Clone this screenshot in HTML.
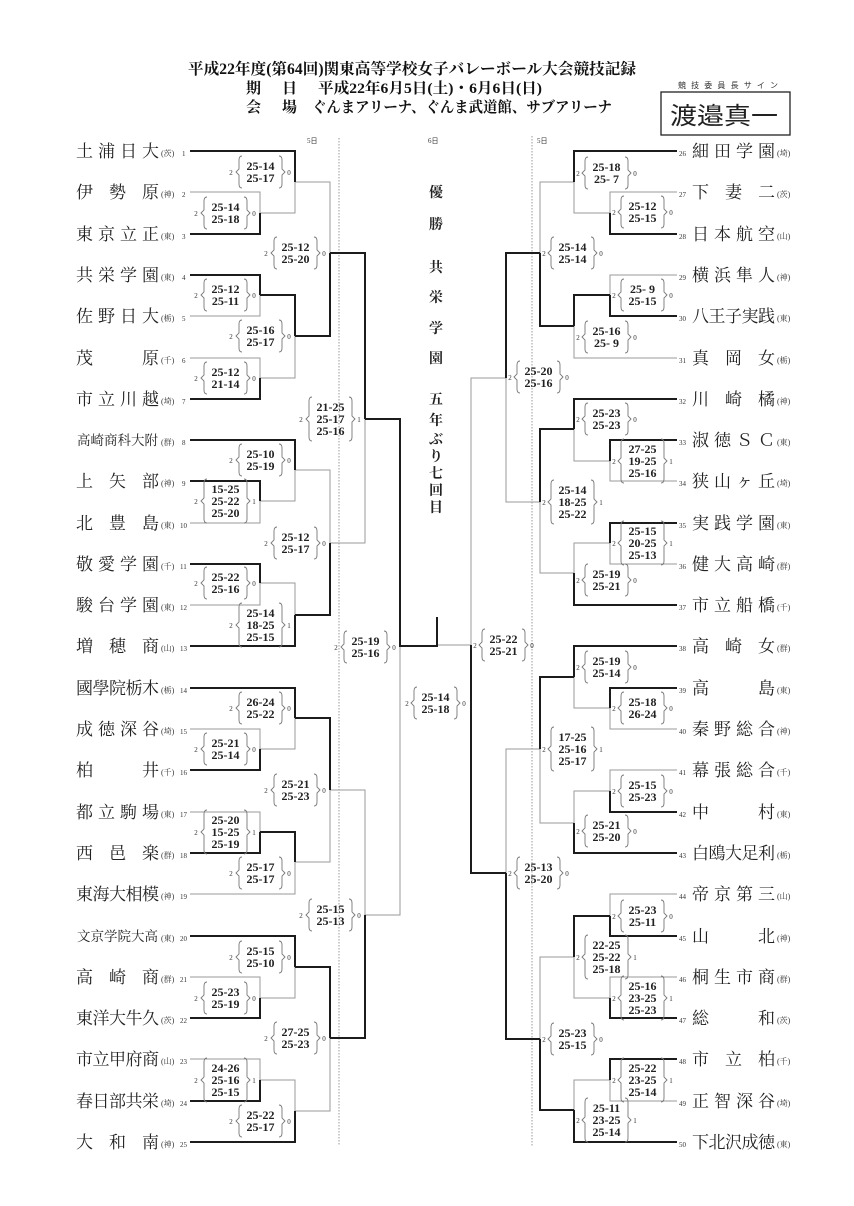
<!DOCTYPE html>
<html><head><meta charset="utf-8">
<style>
html,body{margin:0;padding:0;background:#fff;}
svg{display:block;}
.nm{font-family:"Liberation Serif","Noto Serif CJK SC",serif;font-size:17px;fill:#222;}
.nm6{font-family:"Liberation Serif","Noto Serif CJK SC",serif;font-size:13.5px;fill:#222;}
.pf{font-family:"Liberation Serif","Noto Serif CJK SC",serif;font-size:8px;fill:#333;}
.no{font-family:"Liberation Serif",serif;font-size:7px;fill:#333;}
.sc{font-family:"Liberation Serif",serif;font-size:12px;font-weight:bold;fill:#222;text-anchor:middle;}
.sm{font-family:"Liberation Serif",serif;font-size:7px;fill:#333;text-anchor:middle;}
.tk polyline,.tk line{fill:none;stroke:#1c1c1c;stroke-width:2;}
.tn polyline,.tn line{fill:none;stroke:#9a9a9a;stroke-width:1;}
.br{fill:none;stroke:#777;stroke-width:0.9;}
.hd{font-family:"Liberation Serif","Noto Serif CJK SC",serif;fill:#111;font-weight:bold;}
.ct{font-family:"Liberation Serif","Noto Serif CJK SC",serif;font-size:14px;font-weight:bold;fill:#222;text-anchor:middle;}
</style></head><body>
<svg width="854" height="1206" viewBox="0 0 854 1206" xmlns="http://www.w3.org/2000/svg">
<defs>
<g id="b2"><path class="br" d="M4,-16 Q1,-16 1,-12 L1,-3 L-2,0 L1,3 L1,12 Q1,16 4,16 M41,-16 Q44,-16 44,-12 L44,-3 L47,0 L44,3 L44,12 Q44,16 41,16"/></g>
<g id="b3"><path class="br" d="M4,-22 Q1,-22 1,-18 L1,-3 L-2,0 L1,3 L1,18 Q1,22 4,22 M41,-22 Q44,-22 44,-18 L44,-3 L47,0 L44,3 L44,18 Q44,22 41,22"/></g>
</defs>

<!-- header -->
<text class="hd" x="188" y="74" font-size="15.5" textLength="448" lengthAdjust="spacingAndGlyphs">平成22年度(第64回)関東高等学校女子バレーボール大会競技記録</text>
<text class="hd" x="246" y="93" font-size="15">期</text>
<text class="hd" x="282" y="93" font-size="15">日</text>
<text class="hd" x="318" y="93" font-size="15" textLength="224" lengthAdjust="spacingAndGlyphs">平成22年6月5日(土)・6月6日(日)</text>
<text class="hd" x="246" y="112" font-size="15">会</text>
<text class="hd" x="282" y="112" font-size="15">場</text>
<text class="hd" x="312" y="112" font-size="15" textLength="300" lengthAdjust="spacingAndGlyphs">ぐんまアリーナ、ぐんま武道館、サブアリーナ</text>
<text x="678" y="88" font-family="'Noto Sans CJK JP',sans-serif" font-size="8" fill="#333" textLength="100">競技委員長サイン</text>
<rect x="661" y="92" width="129" height="43" fill="none" stroke="#222" stroke-width="1.3"/>
<text x="670" y="124" font-family="'Noto Sans CJK JP',sans-serif" font-size="24" fill="#222" textLength="108" lengthAdjust="spacingAndGlyphs">渡邉真一</text>

<text class="no" x="307" y="143">5日</text>
<text class="no" x="428" y="143">6日</text>
<text class="no" x="537" y="143">5日</text>
<line x1="339" y1="138" x2="339" y2="1146" stroke="#999" stroke-width="1" stroke-dasharray="1.5,1.5"/>
<line x1="532" y1="136" x2="532" y2="1146" stroke="#999" stroke-width="1" stroke-dasharray="1.5,1.5"/>

<!-- center text -->
<text class="ct" x="436" y="197">優</text>
<text class="ct" x="436" y="229">勝</text>
<text class="ct" x="436" y="272">共</text>
<text class="ct" x="436" y="302">栄</text>
<text class="ct" x="436" y="333">学</text>
<text class="ct" x="436" y="363">園</text>
<text class="ct" x="436" y="404">五</text>
<text class="ct" x="436" y="425">年</text>
<text class="ct" x="436" y="444">ぶ</text>
<text class="ct" x="436" y="461">り</text>
<text class="ct" x="436" y="478">七</text>
<text class="ct" x="436" y="495">回</text>
<text class="ct" x="436" y="512">目</text>

<!-- thin lines -->
<g class="tn">
<polyline points="190,192 260,192 260,213"/>
<polyline points="260,213 295,213 295,182"/>
<polyline points="190,316 260,316 260,295"/>
<polyline points="190,358 260,358 260,378"/>
<polyline points="260,378 295,378 295,336"/>
<polyline points="295,182 330,182 330,253"/>
<polyline points="190,523 260,523 260,501"/>
<polyline points="260,501 295,501 295,470"/>
<polyline points="190,605 260,605 260,583"/>
<polyline points="260,583 295,583 295,615"/>
<polyline points="295,470 330,470 330,543"/>
<polyline points="330,543 365,543 365,419"/>
<polyline points="190,729 260,729 260,749"/>
<polyline points="260,749 295,749 295,718"/>
<polyline points="190,812 260,812 260,832"/>
<polyline points="190,894 295,894 295,862"/>
<polyline points="295,862 330,862 330,790"/>
<polyline points="190,977 260,977 260,998"/>
<polyline points="260,998 295,998 295,967"/>
<polyline points="190,1059 260,1059 260,1080"/>
<polyline points="260,1080 295,1080 295,1111"/>
<polyline points="295,1111 330,1111 330,1038"/>
<polyline points="330,790 365,790 365,915"/>
<polyline points="365,915 400,915 400,646"/>
<polyline points="471,645 437,645"/>

<polyline points="677,192 610,192 610,213"/>
<polyline points="610,213 574,213 574,182"/>
<polyline points="677,275 610,275 610,295"/>
<polyline points="677,358 574,358 574,326"/>
<polyline points="574,182 540,182 540,253"/>
<polyline points="677,481 610,481 610,461"/>
<polyline points="610,461 574,461 574,429"/>
<polyline points="677,564 610,564 610,543"/>
<polyline points="610,543 574,543 574,573"/>
<polyline points="574,573 540,573 540,502"/>
<polyline points="540,502 506,502 506,378"/>
<polyline points="677,729 610,729 610,708"/>
<polyline points="610,708 574,708 574,677"/>
<polyline points="677,770 610,770 610,791"/>
<polyline points="610,791 574,791 574,823"/>
<polyline points="574,823 540,823 540,749"/>
<polyline points="677,894 610,894 610,916"/>
<polyline points="677,977 610,977 610,998"/>
<polyline points="610,998 574,998 574,957"/>
<polyline points="677,1101 610,1101 610,1080"/>
<polyline points="610,1080 574,1080 574,1110"/>
<polyline points="574,957 540,957 540,1039"/>
<polyline points="540,749 506,749 506,873"/>
<polyline points="506,378 471,378 471,645"/>
</g>
<!-- thick lines -->
<g class="tk">
<polyline points="190,234 260,234 260,213"/>
<polyline points="190,151 295,151 295,182"/>
<polyline points="190,275 260,275 260,295"/>
<polyline points="190,399 260,399 260,378"/>
<polyline points="260,295 295,295 295,336"/>
<polyline points="295,336 330,336 330,253"/>
<polyline points="190,481 260,481 260,501"/>
<polyline points="190,440 295,440 295,470"/>
<polyline points="190,564 260,564 260,583"/>
<polyline points="190,646 295,646 295,615"/>
<polyline points="295,615 330,615 330,543"/>
<polyline points="330,253 365,253 365,419"/>
<polyline points="190,770 260,770 260,749"/>
<polyline points="190,688 295,688 295,718"/>
<polyline points="190,853 260,853 260,832"/>
<polyline points="260,832 295,832 295,862"/>
<polyline points="295,718 330,718 330,790"/>
<polyline points="190,1018 260,1018 260,998"/>
<polyline points="190,936 295,936 295,967"/>
<polyline points="190,1101 260,1101 260,1080"/>
<polyline points="190,1142 295,1142 295,1111"/>
<polyline points="295,967 330,967 330,1038"/>
<polyline points="330,1038 365,1038 365,915"/>
<polyline points="365,419 400,419 400,646 437,646 437,617"/>

<polyline points="677,234 610,234 610,213"/>
<polyline points="677,151 574,151 574,182"/>
<polyline points="677,316 610,316 610,295"/>
<polyline points="610,295 574,295 574,326"/>
<polyline points="574,326 540,326 540,253"/>
<polyline points="677,440 610,440 610,461"/>
<polyline points="677,399 574,399 574,429"/>
<polyline points="677,523 610,523 610,543"/>
<polyline points="677,605 574,605 574,573"/>
<polyline points="574,429 540,429 540,502"/>
<polyline points="540,253 506,253 506,378"/>
<polyline points="677,688 610,688 610,708"/>
<polyline points="677,646 574,646 574,677"/>
<polyline points="677,812 610,812 610,791"/>
<polyline points="677,853 574,853 574,823"/>
<polyline points="574,677 540,677 540,749"/>
<polyline points="677,936 610,936 610,916"/>
<polyline points="677,1018 610,1018 610,998"/>
<polyline points="610,916 574,916 574,957"/>
<polyline points="677,1059 610,1059 610,1080"/>
<polyline points="677,1142 574,1142 574,1110"/>
<polyline points="574,1110 540,1110 540,1039"/>
<polyline points="540,1039 506,1039 506,873"/>
<polyline points="506,873 471,873 471,645"/>
</g>

<!-- LEFT TEAMS -->
<g>
<text class="nm" x="76" y="157" textLength="83" lengthAdjust="spacing">土浦日大</text><text class="pf" x="161" y="156">(茨)</text><text class="no" x="182" y="156">1</text>
<text class="nm" x="76" y="198" textLength="83" lengthAdjust="spacing">伊勢原</text><text class="pf" x="161" y="197">(神)</text><text class="no" x="182" y="197">2</text>
<text class="nm" x="76" y="240" textLength="83" lengthAdjust="spacing">東京立正</text><text class="pf" x="161" y="239">(東)</text><text class="no" x="182" y="239">3</text>
<text class="nm" x="76" y="281" textLength="83" lengthAdjust="spacing">共栄学園</text><text class="pf" x="161" y="280">(東)</text><text class="no" x="182" y="280">4</text>
<text class="nm" x="76" y="322" textLength="83" lengthAdjust="spacing">佐野日大</text><text class="pf" x="161" y="321">(栃)</text><text class="no" x="182" y="321">5</text>
<text class="nm" x="76" y="364" textLength="83" lengthAdjust="spacing">茂原</text><text class="pf" x="161" y="363">(千)</text><text class="no" x="182" y="363">6</text>
<text class="nm" x="76" y="405" textLength="83" lengthAdjust="spacing">市立川越</text><text class="pf" x="161" y="404">(埼)</text><text class="no" x="182" y="404">7</text>
<text class="nm6" x="77" y="445" textLength="81" lengthAdjust="spacing">高崎商科大附</text><text class="pf" x="161" y="445">(群)</text><text class="no" x="182" y="445">8</text>
<text class="nm" x="76" y="487" textLength="83" lengthAdjust="spacing">上矢部</text><text class="pf" x="161" y="486">(神)</text><text class="no" x="182" y="486">9</text>
<text class="nm" x="76" y="529" textLength="83" lengthAdjust="spacing">北豊島</text><text class="pf" x="161" y="528">(東)</text><text class="no" x="180" y="528">10</text>
<text class="nm" x="76" y="570" textLength="83" lengthAdjust="spacing">敬愛学園</text><text class="pf" x="161" y="569">(千)</text><text class="no" x="180" y="569">11</text>
<text class="nm" x="76" y="611" textLength="83" lengthAdjust="spacing">駿台学園</text><text class="pf" x="161" y="610">(東)</text><text class="no" x="180" y="610">12</text>
<text class="nm" x="76" y="652" textLength="83" lengthAdjust="spacing">増穂商</text><text class="pf" x="161" y="651">(山)</text><text class="no" x="180" y="651">13</text>
<text class="nm" x="76" y="694" textLength="83" lengthAdjust="spacing">國學院栃木</text><text class="pf" x="161" y="693">(栃)</text><text class="no" x="180" y="693">14</text>
<text class="nm" x="76" y="735" textLength="83" lengthAdjust="spacing">成徳深谷</text><text class="pf" x="161" y="734">(埼)</text><text class="no" x="180" y="734">15</text>
<text class="nm" x="76" y="776" textLength="83" lengthAdjust="spacing">柏井</text><text class="pf" x="161" y="775">(千)</text><text class="no" x="180" y="775">16</text>
<text class="nm" x="76" y="818" textLength="83" lengthAdjust="spacing">都立駒場</text><text class="pf" x="161" y="817">(東)</text><text class="no" x="180" y="817">17</text>
<text class="nm" x="76" y="859" textLength="83" lengthAdjust="spacing">西邑楽</text><text class="pf" x="161" y="858">(群)</text><text class="no" x="180" y="858">18</text>
<text class="nm" x="76" y="900" textLength="83" lengthAdjust="spacing">東海大相模</text><text class="pf" x="161" y="899">(神)</text><text class="no" x="180" y="899">19</text>
<text class="nm6" x="77" y="941" textLength="81" lengthAdjust="spacing">文京学院大高</text><text class="pf" x="161" y="941">(東)</text><text class="no" x="180" y="941">20</text>
<text class="nm" x="76" y="983" textLength="83" lengthAdjust="spacing">高崎商</text><text class="pf" x="161" y="982">(群)</text><text class="no" x="180" y="982">21</text>
<text class="nm" x="76" y="1024" textLength="83" lengthAdjust="spacing">東洋大牛久</text><text class="pf" x="161" y="1023">(茨)</text><text class="no" x="180" y="1023">22</text>
<text class="nm" x="76" y="1065" textLength="83" lengthAdjust="spacing">市立甲府商</text><text class="pf" x="161" y="1064">(山)</text><text class="no" x="180" y="1064">23</text>
<text class="nm" x="76" y="1107" textLength="83" lengthAdjust="spacing">春日部共栄</text><text class="pf" x="161" y="1106">(埼)</text><text class="no" x="180" y="1106">24</text>
<text class="nm" x="76" y="1148" textLength="83" lengthAdjust="spacing">大和南</text><text class="pf" x="161" y="1147">(神)</text><text class="no" x="180" y="1147">25</text>
</g>

<!-- RIGHT TEAMS -->
<g>
<text class="no" x="679" y="156">26</text><text class="nm" x="692" y="157" textLength="83" lengthAdjust="spacing">細田学園</text><text class="pf" x="777" y="156">(埼)</text>
<text class="no" x="679" y="197">27</text><text class="nm" x="692" y="198" textLength="83" lengthAdjust="spacing">下妻二</text><text class="pf" x="777" y="197">(茨)</text>
<text class="no" x="679" y="239">28</text><text class="nm" x="692" y="240" textLength="83" lengthAdjust="spacing">日本航空</text><text class="pf" x="777" y="239">(山)</text>
<text class="no" x="679" y="280">29</text><text class="nm" x="692" y="281" textLength="83" lengthAdjust="spacing">横浜隼人</text><text class="pf" x="777" y="280">(神)</text>
<text class="no" x="679" y="321">30</text><text class="nm" x="692" y="322" textLength="83" lengthAdjust="spacing">八王子実践</text><text class="pf" x="777" y="321">(東)</text>
<text class="no" x="679" y="363">31</text><text class="nm" x="692" y="364" textLength="83" lengthAdjust="spacing">真岡女</text><text class="pf" x="777" y="363">(栃)</text>
<text class="no" x="679" y="404">32</text><text class="nm" x="692" y="405" textLength="83" lengthAdjust="spacing">川崎橘</text><text class="pf" x="777" y="404">(神)</text>
<text class="no" x="679" y="445">33</text><text class="nm" x="692" y="446" textLength="83" lengthAdjust="spacing">淑徳ＳＣ</text><text class="pf" x="777" y="445">(東)</text>
<text class="no" x="679" y="486">34</text><text class="nm" x="692" y="487" textLength="83" lengthAdjust="spacing">狭山ヶ丘</text><text class="pf" x="777" y="486">(埼)</text>
<text class="no" x="679" y="528">35</text><text class="nm" x="692" y="529" textLength="83" lengthAdjust="spacing">実践学園</text><text class="pf" x="777" y="528">(東)</text>
<text class="no" x="679" y="569">36</text><text class="nm" x="692" y="570" textLength="83" lengthAdjust="spacing">健大高崎</text><text class="pf" x="777" y="569">(群)</text>
<text class="no" x="679" y="610">37</text><text class="nm" x="692" y="611" textLength="83" lengthAdjust="spacing">市立船橋</text><text class="pf" x="777" y="610">(千)</text>
<text class="no" x="679" y="651">38</text><text class="nm" x="692" y="652" textLength="83" lengthAdjust="spacing">高崎女</text><text class="pf" x="777" y="651">(群)</text>
<text class="no" x="679" y="693">39</text><text class="nm" x="692" y="694" textLength="83" lengthAdjust="spacing">高島</text><text class="pf" x="777" y="693">(東)</text>
<text class="no" x="679" y="734">40</text><text class="nm" x="692" y="735" textLength="83" lengthAdjust="spacing">秦野総合</text><text class="pf" x="777" y="734">(神)</text>
<text class="no" x="679" y="775">41</text><text class="nm" x="692" y="776" textLength="83" lengthAdjust="spacing">幕張総合</text><text class="pf" x="777" y="775">(千)</text>
<text class="no" x="679" y="817">42</text><text class="nm" x="692" y="818" textLength="83" lengthAdjust="spacing">中村</text><text class="pf" x="777" y="817">(東)</text>
<text class="no" x="679" y="858">43</text><text class="nm" x="692" y="859" textLength="83" lengthAdjust="spacing">白鴎大足利</text><text class="pf" x="777" y="858">(栃)</text>
<text class="no" x="679" y="899">44</text><text class="nm" x="692" y="900" textLength="83" lengthAdjust="spacing">帝京第三</text><text class="pf" x="777" y="899">(山)</text>
<text class="no" x="679" y="941">45</text><text class="nm" x="692" y="942" textLength="83" lengthAdjust="spacing">山北</text><text class="pf" x="777" y="941">(神)</text>
<text class="no" x="679" y="982">46</text><text class="nm" x="692" y="983" textLength="83" lengthAdjust="spacing">桐生市商</text><text class="pf" x="777" y="982">(群)</text>
<text class="no" x="679" y="1023">47</text><text class="nm" x="692" y="1024" textLength="83" lengthAdjust="spacing">総和</text><text class="pf" x="777" y="1023">(茨)</text>
<text class="no" x="679" y="1064">48</text><text class="nm" x="692" y="1065" textLength="83" lengthAdjust="spacing">市立柏</text><text class="pf" x="777" y="1064">(千)</text>
<text class="no" x="679" y="1106">49</text><text class="nm" x="692" y="1107" textLength="83" lengthAdjust="spacing">正智深谷</text><text class="pf" x="777" y="1106">(埼)</text>
<text class="no" x="679" y="1147">50</text><text class="nm" x="692" y="1148" textLength="83" lengthAdjust="spacing">下北沢成徳</text><text class="pf" x="777" y="1147">(東)</text>
</g>

<!-- LEFT SCORE BOXES -->
<g>
<use href="#b2" x="203" y="213"/><text class="sc" x="225.5" y="211">25-14</text><text class="sc" x="225.5" y="223">25-18</text><text class="sm" x="196" y="216">2</text><text class="sm" x="254" y="216">0</text>
<use href="#b2" x="238" y="172"/><text class="sc" x="260.5" y="170">25-14</text><text class="sc" x="260.5" y="182">25-17</text><text class="sm" x="231" y="175">2</text><text class="sm" x="289" y="175">0</text>
<use href="#b2" x="203" y="295"/><text class="sc" x="225.5" y="293">25-12</text><text class="sc" x="225.5" y="305">25-11</text><text class="sm" x="196" y="298">2</text><text class="sm" x="254" y="298">0</text>
<use href="#b2" x="203" y="378"/><text class="sc" x="225.5" y="376">25-12</text><text class="sc" x="225.5" y="388">21-14</text><text class="sm" x="196" y="381">2</text><text class="sm" x="254" y="381">0</text>
<use href="#b2" x="238" y="336"/><text class="sc" x="260.5" y="334">25-16</text><text class="sc" x="260.5" y="346">25-17</text><text class="sm" x="231" y="339">2</text><text class="sm" x="289" y="339">0</text>
<use href="#b2" x="273" y="253"/><text class="sc" x="295.5" y="251">25-12</text><text class="sc" x="295.5" y="263">25-20</text><text class="sm" x="266" y="256">2</text><text class="sm" x="324" y="256">0</text>
<use href="#b3" x="203" y="501"/><text class="sc" x="225.5" y="493">15-25</text><text class="sc" x="225.5" y="505">25-22</text><text class="sc" x="225.5" y="517">25-20</text><text class="sm" x="196" y="504">2</text><text class="sm" x="254" y="504">1</text>
<use href="#b2" x="238" y="460"/><text class="sc" x="260.5" y="458">25-10</text><text class="sc" x="260.5" y="470">25-19</text><text class="sm" x="231" y="463">2</text><text class="sm" x="289" y="463">0</text>
<use href="#b2" x="203" y="583"/><text class="sc" x="225.5" y="581">25-22</text><text class="sc" x="225.5" y="593">25-16</text><text class="sm" x="196" y="586">2</text><text class="sm" x="254" y="586">0</text>
<use href="#b3" x="238" y="625"/><text class="sc" x="260.5" y="617">25-14</text><text class="sc" x="260.5" y="629">18-25</text><text class="sc" x="260.5" y="641">25-15</text><text class="sm" x="231" y="628">2</text><text class="sm" x="289" y="628">1</text>
<use href="#b2" x="273" y="543"/><text class="sc" x="295.5" y="541">25-12</text><text class="sc" x="295.5" y="553">25-17</text><text class="sm" x="266" y="546">2</text><text class="sm" x="324" y="546">0</text>
<use href="#b3" x="308" y="419"/><text class="sc" x="330.5" y="411">21-25</text><text class="sc" x="330.5" y="423">25-17</text><text class="sc" x="330.5" y="435">25-16</text><text class="sm" x="301" y="422">2</text><text class="sm" x="359" y="422">1</text>
<use href="#b2" x="203" y="749"/><text class="sc" x="225.5" y="747">25-21</text><text class="sc" x="225.5" y="759">25-14</text><text class="sm" x="196" y="752">2</text><text class="sm" x="254" y="752">0</text>
<use href="#b2" x="238" y="708"/><text class="sc" x="260.5" y="706">26-24</text><text class="sc" x="260.5" y="718">25-22</text><text class="sm" x="231" y="711">2</text><text class="sm" x="289" y="711">0</text>
<use href="#b3" x="203" y="832"/><text class="sc" x="225.5" y="824">25-20</text><text class="sc" x="225.5" y="836">15-25</text><text class="sc" x="225.5" y="848">25-19</text><text class="sm" x="196" y="835">2</text><text class="sm" x="254" y="835">1</text>
<use href="#b2" x="238" y="873"/><text class="sc" x="260.5" y="871">25-17</text><text class="sc" x="260.5" y="883">25-17</text><text class="sm" x="231" y="876">2</text><text class="sm" x="289" y="876">0</text>
<use href="#b2" x="273" y="790"/><text class="sc" x="295.5" y="788">25-21</text><text class="sc" x="295.5" y="800">25-23</text><text class="sm" x="266" y="793">2</text><text class="sm" x="324" y="793">0</text>
<use href="#b2" x="203" y="998"/><text class="sc" x="225.5" y="996">25-23</text><text class="sc" x="225.5" y="1008">25-19</text><text class="sm" x="196" y="1001">2</text><text class="sm" x="254" y="1001">0</text>
<use href="#b2" x="238" y="957"/><text class="sc" x="260.5" y="955">25-15</text><text class="sc" x="260.5" y="967">25-10</text><text class="sm" x="231" y="960">2</text><text class="sm" x="289" y="960">0</text>
<use href="#b3" x="203" y="1080"/><text class="sc" x="225.5" y="1072">24-26</text><text class="sc" x="225.5" y="1084">25-16</text><text class="sc" x="225.5" y="1096">25-15</text><text class="sm" x="196" y="1083">2</text><text class="sm" x="254" y="1083">1</text>
<use href="#b2" x="238" y="1121"/><text class="sc" x="260.5" y="1119">25-22</text><text class="sc" x="260.5" y="1131">25-17</text><text class="sm" x="231" y="1124">2</text><text class="sm" x="289" y="1124">0</text>
<use href="#b2" x="273" y="1038"/><text class="sc" x="295.5" y="1036">27-25</text><text class="sc" x="295.5" y="1048">25-23</text><text class="sm" x="266" y="1041">2</text><text class="sm" x="324" y="1041">0</text>
<use href="#b2" x="308" y="915"/><text class="sc" x="330.5" y="913">25-15</text><text class="sc" x="330.5" y="925">25-13</text><text class="sm" x="301" y="918">2</text><text class="sm" x="359" y="918">0</text>
<use href="#b2" x="343" y="647"/><text class="sc" x="365.5" y="645">25-19</text><text class="sc" x="365.5" y="657">25-16</text><text class="sm" x="336" y="650">2</text><text class="sm" x="394" y="650">0</text>
<!-- final -->
<use href="#b2" x="413" y="703"/><text class="sc" x="435.5" y="701">25-14</text><text class="sc" x="435.5" y="713">25-18</text><text class="sm" x="407" y="706">2</text><text class="sm" x="464" y="706">0</text>
</g>

<!-- RIGHT SCORE BOXES -->
<g>
<use href="#b2" x="620" y="212"/><text class="sc" x="642.5" y="210">25-12</text><text class="sc" x="642.5" y="222">25-15</text><text class="sm" x="614" y="215">2</text><text class="sm" x="671" y="215">0</text>
<use href="#b2" x="584" y="173"/><text class="sc" x="606.5" y="171">25-18</text><text class="sc" x="606.5" y="183">25- 7</text><text class="sm" x="578" y="176">2</text><text class="sm" x="635" y="176">0</text>
<use href="#b2" x="620" y="295"/><text class="sc" x="642.5" y="293">25- 9</text><text class="sc" x="642.5" y="305">25-15</text><text class="sm" x="614" y="298">2</text><text class="sm" x="671" y="298">0</text>
<use href="#b2" x="584" y="337"/><text class="sc" x="606.5" y="335">25-16</text><text class="sc" x="606.5" y="347">25- 9</text><text class="sm" x="578" y="340">2</text><text class="sm" x="635" y="340">0</text>
<use href="#b2" x="550" y="253"/><text class="sc" x="572.5" y="251">25-14</text><text class="sc" x="572.5" y="263">25-14</text><text class="sm" x="544" y="256">2</text><text class="sm" x="601" y="256">0</text>
<use href="#b3" x="620" y="461"/><text class="sc" x="642.5" y="453">27-25</text><text class="sc" x="642.5" y="465">19-25</text><text class="sc" x="642.5" y="477">25-16</text><text class="sm" x="614" y="464">2</text><text class="sm" x="671" y="464">1</text>
<use href="#b2" x="584" y="419"/><text class="sc" x="606.5" y="417">25-23</text><text class="sc" x="606.5" y="429">25-23</text><text class="sm" x="578" y="422">2</text><text class="sm" x="635" y="422">0</text>
<use href="#b3" x="620" y="543"/><text class="sc" x="642.5" y="535">25-15</text><text class="sc" x="642.5" y="547">20-25</text><text class="sc" x="642.5" y="559">25-13</text><text class="sm" x="614" y="546">2</text><text class="sm" x="671" y="546">1</text>
<use href="#b2" x="584" y="580"/><text class="sc" x="606.5" y="578">25-19</text><text class="sc" x="606.5" y="590">25-21</text><text class="sm" x="578" y="583">2</text><text class="sm" x="635" y="583">0</text>
<use href="#b3" x="550" y="502"/><text class="sc" x="572.5" y="494">25-14</text><text class="sc" x="572.5" y="506">18-25</text><text class="sc" x="572.5" y="518">25-22</text><text class="sm" x="544" y="505">2</text><text class="sm" x="601" y="505">1</text>
<use href="#b2" x="516" y="377"/><text class="sc" x="538.5" y="375">25-20</text><text class="sc" x="538.5" y="387">25-16</text><text class="sm" x="510" y="380">2</text><text class="sm" x="567" y="380">0</text>
<use href="#b2" x="620" y="708"/><text class="sc" x="642.5" y="706">25-18</text><text class="sc" x="642.5" y="718">26-24</text><text class="sm" x="614" y="711">2</text><text class="sm" x="671" y="711">0</text>
<use href="#b2" x="584" y="667"/><text class="sc" x="606.5" y="665">25-19</text><text class="sc" x="606.5" y="677">25-14</text><text class="sm" x="578" y="670">2</text><text class="sm" x="635" y="670">0</text>
<use href="#b2" x="620" y="791"/><text class="sc" x="642.5" y="789">25-15</text><text class="sc" x="642.5" y="801">25-23</text><text class="sm" x="614" y="794">2</text><text class="sm" x="671" y="794">0</text>
<use href="#b2" x="584" y="831"/><text class="sc" x="606.5" y="829">25-21</text><text class="sc" x="606.5" y="841">25-20</text><text class="sm" x="578" y="834">2</text><text class="sm" x="635" y="834">0</text>
<use href="#b3" x="550" y="749"/><text class="sc" x="572.5" y="741">17-25</text><text class="sc" x="572.5" y="753">25-16</text><text class="sc" x="572.5" y="765">25-17</text><text class="sm" x="544" y="752">2</text><text class="sm" x="601" y="752">1</text>
<use href="#b2" x="620" y="916"/><text class="sc" x="642.5" y="914">25-23</text><text class="sc" x="642.5" y="926">25-11</text><text class="sm" x="614" y="919">2</text><text class="sm" x="671" y="919">0</text>
<use href="#b3" x="620" y="998"/><text class="sc" x="642.5" y="990">25-16</text><text class="sc" x="642.5" y="1002">23-25</text><text class="sc" x="642.5" y="1014">25-23</text><text class="sm" x="614" y="1001">2</text><text class="sm" x="671" y="1001">1</text>
<use href="#b3" x="584" y="957"/><text class="sc" x="606.5" y="949">22-25</text><text class="sc" x="606.5" y="961">25-22</text><text class="sc" x="606.5" y="973">25-18</text><text class="sm" x="578" y="960">2</text><text class="sm" x="635" y="960">1</text>
<use href="#b3" x="620" y="1080"/><text class="sc" x="642.5" y="1072">25-22</text><text class="sc" x="642.5" y="1084">23-25</text><text class="sc" x="642.5" y="1096">25-14</text><text class="sm" x="614" y="1083">2</text><text class="sm" x="671" y="1083">1</text>
<use href="#b3" x="584" y="1120"/><text class="sc" x="606.5" y="1112">25-11</text><text class="sc" x="606.5" y="1124">23-25</text><text class="sc" x="606.5" y="1136">25-14</text><text class="sm" x="578" y="1123">2</text><text class="sm" x="635" y="1123">1</text>
<use href="#b2" x="550" y="1039"/><text class="sc" x="572.5" y="1037">25-23</text><text class="sc" x="572.5" y="1049">25-15</text><text class="sm" x="544" y="1042">2</text><text class="sm" x="601" y="1042">0</text>
<use href="#b2" x="516" y="873"/><text class="sc" x="538.5" y="871">25-13</text><text class="sc" x="538.5" y="883">25-20</text><text class="sm" x="510" y="876">2</text><text class="sm" x="567" y="876">0</text>
<use href="#b2" x="481" y="645"/><text class="sc" x="503.5" y="643">25-22</text><text class="sc" x="503.5" y="655">25-21</text><text class="sm" x="475" y="648">2</text><text class="sm" x="532" y="648">0</text>
</g>
</svg>
</body></html>
